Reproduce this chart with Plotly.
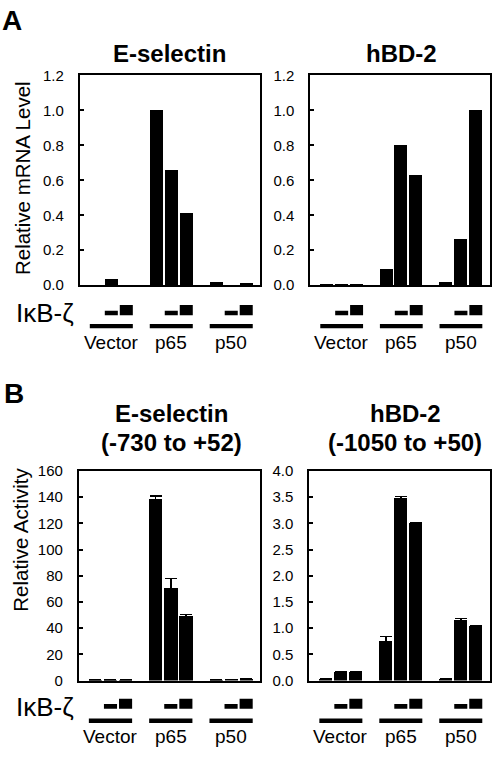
import plotly.graph_objects as go

W, H = 492, 757

groups = ["Vector", "p65", "p50"]
n_dose = 3

# Panel A: relative mRNA level
a_esel = [0.0, 0.03, 0.0, 1.0, 0.655, 0.41, 0.016, 0.0, 0.006]
a_hbd2 = [0.003, 0.003, 0.003, 0.087, 0.80, 0.627, 0.013, 0.259, 1.0]

# Panel B: relative activity (luciferase)
b_esel = [0.4, 0.4, 0.4, 139.0, 70.5, 49.0, 0.3, 1.0, 1.5]
b_esel_err = [0, 0, 0, 2.0, 7.5, 1.5, 0, 0, 0]
b_hbd2 = [0.03, 0.16, 0.16, 0.76, 3.49, 3.01, 0.04, 1.16, 1.04]
b_hbd2_err = [0, 0.01, 0.01, 0.08, 0.02, 0.0, 0, 0.02, 0]

title_lines = [["E-selectin"], ["hBD-2"],
               ["E-selectin", "(-730 to +52)"],
               ["hBD-2", "(-1050 to +50)"]]
ytitles = ["Relative mRNA Level", "Relative Activity"]
ylabel_iκb = "IκB-ζ"

FONT = "Liberation Sans, Arial, sans-serif"
xpos = [4 * g + i for g in range(len(groups)) for i in range(n_dose)]
BW = 0.87

def py(p):
    return 1 - p / H

def px(p):
    return p / W

# panel geometry in pixels: (x0, x1, ytop, ybottom)
geo = [
    (80, 261, 68, 282.5),
    (311, 491, 68, 282.5),
    (79, 261, 472.5, 687),
    (310, 491, 472.5, 687),
]
yranges = [[0, 1.2], [0, 1.2], [0, 160], [0, 4.0]]
dticks = [0.2, 0.2, 20, 0.5]
fmts = [".1f", ".1f", "d", ".1f"]
data = [(a_esel, None), (a_hbd2, None), (b_esel, b_esel_err), (b_hbd2, b_hbd2_err)]

fig = go.Figure()
layout = dict(width=W, height=H, margin=dict(l=0, r=0, t=0, b=0),
              paper_bgcolor="white", plot_bgcolor="white", showlegend=False,
              font=dict(family=FONT, color="black"), bargap=0)
annotations = []
shapes = []

for k in range(4):
    vals, err = data[k]
    sfx = "" if k == 0 else str(k + 1)
    tr = go.Bar(x=xpos, y=vals, width=BW, marker=dict(color="black", line=dict(width=0)),
                xaxis="x" + sfx, yaxis="y" + sfx, hoverinfo="skip")
    if err is not None:
        tr.error_y = dict(type="data", array=err, visible=True, color="black",
                          thickness=1.5, width=6)
    fig.add_trace(tr)
    x0, x1, yt, yb = geo[k]
    layout["xaxis" + sfx] = dict(domain=[px(x0), px(x1)], range=[-1.1, 10.95],
                                 showticklabels=False, ticks="", showgrid=False,
                                 zeroline=False, showline=True, linewidth=2,
                                 linecolor="black", mirror=True,
                                 anchor="y" + sfx, fixedrange=True)
    layout["yaxis" + sfx] = dict(domain=[py(yb), py(yt)], range=yranges[k],
                                 dtick=dticks[k], tick0=0, tickformat=fmts[k],
                                 ticks="inside", ticklen=4, tickwidth=1.5,
                                 tickcolor="black", showgrid=False, zeroline=False,
                                 showline=True, linewidth=2, linecolor="black",
                                 mirror=True, anchor="x" + sfx,
                                 ticklabelstandoff=11, fixedrange=True,
                                 tickfont=dict(family=FONT, size=15, color="black"))
    xref = "x" + sfx
    # indicator shapes under each group
    if k < 2:
        long_y, small_y, big_y = (322.3, 326.7), (308.7, 313.3), (302.7, 313.3)
        lab_y = 341
    else:
        long_y, small_y, big_y = (725.7, 730.3), (711, 715.7), (705.7, 715.7)
        lab_y = 744
    for g, name in enumerate(groups):
        c = 4 * g
        shapes.append(dict(type="rect", xref=xref, yref="paper",
                           x0=c - BW / 2, x1=c + 2 + BW / 2,
                           y0=py(long_y[1]), y1=py(long_y[0]),
                           fillcolor="black", line=dict(width=0)))
        shapes.append(dict(type="rect", xref=xref, yref="paper",
                           x0=c + 1 - BW / 2, x1=c + 1 + BW / 2,
                           y0=py(small_y[1]), y1=py(small_y[0]),
                           fillcolor="black", line=dict(width=0)))
        shapes.append(dict(type="rect", xref=xref, yref="paper",
                           x0=c + 2 - BW / 2, x1=c + 2 + BW / 2,
                           y0=py(big_y[1]), y1=py(big_y[0]),
                           fillcolor="black", line=dict(width=0)))
        annotations.append(dict(text=name, xref=xref, yref="paper", x=c + 1,
                                y=py(lab_y), xanchor="center", yanchor="middle",
                                showarrow=False,
                                font=dict(family=FONT, size=19, color="black")))

# titles (one annotation per line)
tpos = [(170, [46]), (402, [46]), (172, [414, 443]), (406, [414, 443])]
for k in range(4):
    xc, ys = tpos[k]
    for line, yc in zip(title_lines[k], ys):
        annotations.append(dict(text="<b>" + line + "</b>", xref="paper", yref="paper",
                                x=px(xc), y=py(yc),
                                xanchor="center", yanchor="middle", showarrow=False,
                                font=dict(family=FONT, size=24, color="black")))

# y axis titles
annotations.append(dict(text=ytitles[0], xref="paper", yref="paper", x=px(22),
                        y=py(173), textangle=-90, xanchor="center", yanchor="middle",
                        showarrow=False, font=dict(family=FONT, size=20.5, color="black")))
annotations.append(dict(text=ytitles[1], xref="paper", yref="paper", x=px(21),
                        y=py(543), textangle=-90, xanchor="center", yanchor="middle",
                        showarrow=False, font=dict(family=FONT, size=20.5, color="black")))

# IκB-ζ labels
for yc in (311, 714):
    annotations.append(dict(text=ylabel_iκb, xref="paper", yref="paper", x=px(14),
                            y=py(yc), xanchor="left", yanchor="middle", showarrow=False,
                            font=dict(family=FONT, size=26, color="black")))

# panel letters
annotations.append(dict(text="<b>A</b>", xref="paper", yref="paper", x=px(0), y=py(12),
                        xanchor="left", yanchor="middle", showarrow=False,
                        font=dict(family=FONT, size=28, color="black")))
annotations.append(dict(text="<b>B</b>", xref="paper", yref="paper", x=px(2), y=py(393),
                        xanchor="left", yanchor="middle", showarrow=False,
                        font=dict(family=FONT, size=28, color="black")))

layout["annotations"] = annotations
layout["shapes"] = shapes
fig.update_layout(**layout)
fig.write_html("out.html", config={"displayModeBar": False},
               post_script="document.body.style.margin='0';document.body.style.overflow='hidden';")
